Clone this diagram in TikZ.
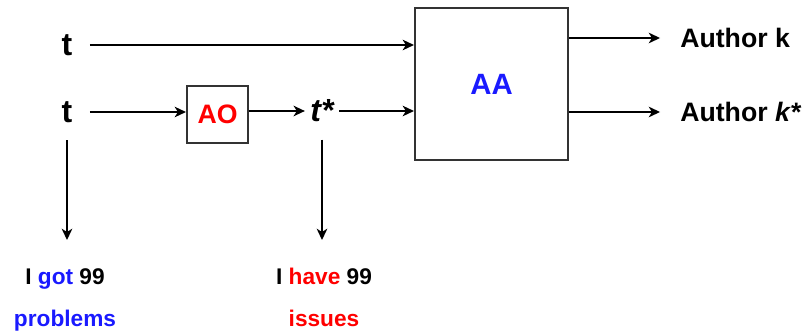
\documentclass[tikz,border=0pt]{standalone}
\usepackage{fontspec}
\setmainfont{Liberation Sans}
\usetikzlibrary{arrows.meta, positioning}
\definecolor{boxline}{HTML}{333333}
\definecolor{hiblue}{HTML}{1A1AFF}
\definecolor{hired}{HTML}{FF0000}

\begin{document}
\begin{tikzpicture}[
  x=0.75pt, y=-0.75pt,
  blockbox/.style={draw=boxline, line width=1.6pt, fill=white,
                   font=\fontsize{20}{24}\selectfont\bfseries},
  lbl/.style={font=\fontsize{24}{28}\selectfont\bfseries, inner sep=13pt},
  outlbl/.style={font=\fontsize{20}{24}\selectfont\bfseries, anchor=west,
                 inner ysep=0pt, inner xsep=15pt},
  note/.style={font=\fontsize{17}{31.5}\selectfont\bfseries, align=center,
               anchor=north, inner xsep=0pt, inner ysep=21pt},
  arr/.style={-{Stealth[length=8.5pt, width=8pt, inset=2.5pt]}, line width=1pt}
]
  \useasboundingbox (0,0) rectangle (812,335);
  % inputs and blocks
  \node[lbl] (t1) at (67,45)  {t};
  \node[lbl] (t2) at (67,112) {t};
  \node[blockbox, minimum width=45.75pt, minimum height=42.75pt, text=hired] (ao) at (217.5,114.5) {AO};
  \node[lbl, inner xsep=4pt] (ts) at (322,111) {\itshape t*};
  \node[blockbox, minimum width=114.75pt, minimum height=114pt, text=hiblue,
        font=\fontsize{22}{26}\selectfont\bfseries] (aa) at (491.5,84) {AA};
  % outputs
  \node[outlbl] (ak)  at (660,38)  {Author k};
  \node[outlbl] (aks) at (660,112) {Author \textit{k}*};
  % notes
  \node[note] (n1) at (65,240)  {I \textcolor{hiblue}{got} 99\\\textcolor{hiblue}{problems}};
  \node[note] (n2) at (324,240) {I \textcolor{hired}{have} 99\\\textcolor{hired}{issues}};
  % connectors
  \draw[arr] (t1) -- (t1 -| aa.west);
  \draw[arr] (t2) -- (t2 -| ao.west);
  \draw[arr] (ao.east |- ts) -- (ts);
  \draw[arr] (ts) -- (ts -| aa.west);
  \draw[arr] (aa.east |- ak) -- (ak);
  \draw[arr] (aa.east |- aks) -- (aks);
  \draw[arr] (t2) -- (t2 |- n1.north);
  \draw[arr] (ts) -- (ts |- n2.north);
\end{tikzpicture}
\end{document}
